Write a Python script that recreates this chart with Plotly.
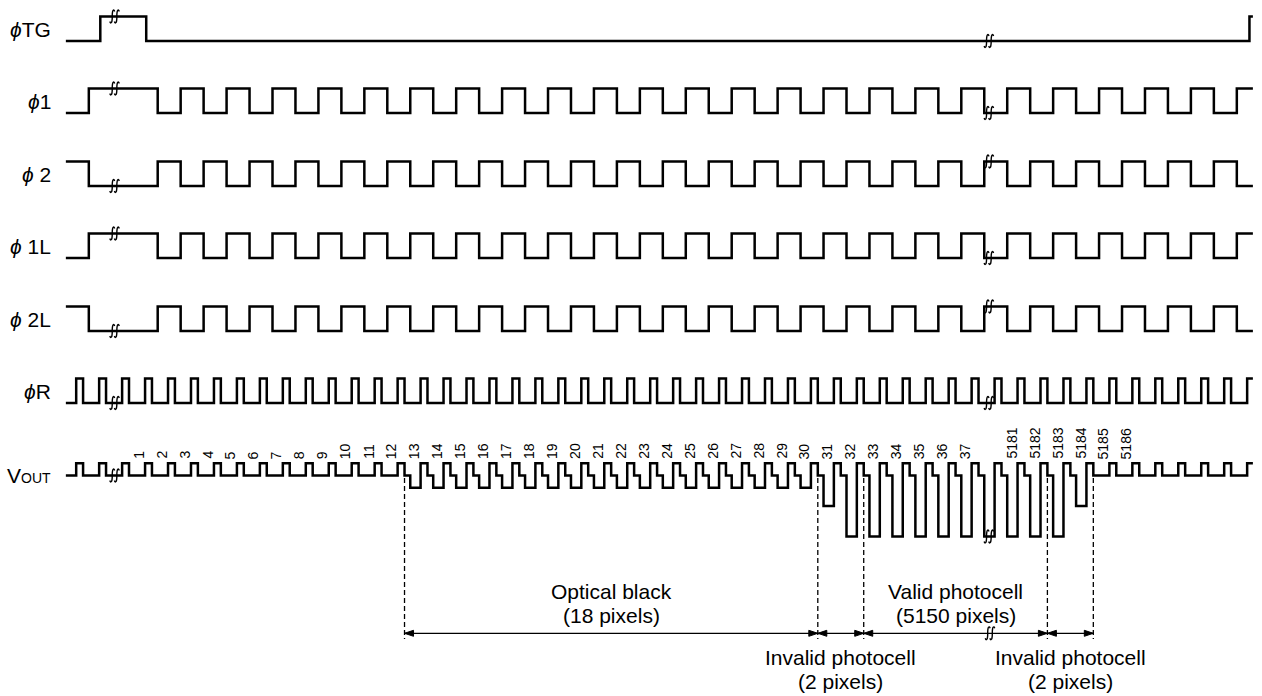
import plotly.graph_objects as go

# ------------------------------------------------------------------
# DATA  (time unit = half period of phi1; signal levels are logical)
# ------------------------------------------------------------------
T_START, T_END = -4.0, 47.7

signal_names = ["<i>ϕ</i>TG", "<i>ϕ</i>1", "<i>ϕ</i> 2", "<i>ϕ</i> 1L", "<i>ϕ</i> 2L", "<i>ϕ</i>R",
                "V<span style='font-size:14px'>OUT</span>"]

# phi TG : toggle times, initial level
tg_toggles = [-2.5, -0.5, 47.55]
tg_initial = 0

# phi1 / phi1L start low, phi2 / phi2L start high; all toggle at these times
clock_toggles = [-3, 0, 1, 2, 3, 4, 5, 6, 7, 8, 9, 10, 11, 12, 13, 14, 15, 16, 17, 18,
                 19, 20, 21, 22, 23, 24, 25, 26, 27, 28, 29, 30, 31, 32, 33, 34, 35, 36,
                 37, 38, 39, 40, 41, 42, 43, 44, 45, 46, 47]
phi1_initial = 0
phi2_initial = 1

# phi R : reset pulse rising edges, and pulse width
reset_rise = [-3.55, -2.55, -1.55, -0.55, 0.45, 1.45, 2.45, 3.45, 4.45, 5.45, 6.45, 7.45,
              8.45, 9.45, 10.45, 11.45, 12.45, 13.45, 14.45, 15.45, 16.45, 17.45, 18.45,
              19.45, 20.45, 21.45, 22.45, 23.45, 24.45, 25.45, 26.45, 27.45, 28.45, 29.45,
              30.45, 31.45, 32.45, 33.45, 34.45, 35.45, 36.45, 37.45, 38.45, 39.45, 40.45,
              41.45, 42.45, 43.45, 44.45, 45.45, 46.45, 47.45]
reset_width = 0.30

# VOUT : start of each output slot and the signal level in that slot
# (0 = feed-through level, -1 = optical black, -2.5 = invalid, -5 = valid)
slot_start = [-4, -3, -2, -1, 0, 1, 2, 3, 4, 5, 6, 7, 8, 9, 10, 11, 12, 13, 14, 15, 16,
              17, 18, 19, 20, 21, 22, 23, 24, 25, 26, 27, 28, 29, 30, 31, 32, 33, 34, 35,
              36, 37, 38, 39, 40, 41, 42, 43, 44, 45, 46, 47]
vout_signal = [0, 0, 0,                                  # before pixel 1
               0, 0, 0, 0, 0, 0, 0, 0, 0, 0, 0, 0,       # pixels 1-12
               -1, -1, -1, -1, -1, -1, -1, -1, -1,       # pixels 13-21
               -1, -1, -1, -1, -1, -1, -1, -1, -1,       # pixels 22-30
               -2.5,                                     # pixel 31
               -5, -5, -5, -5, -5, -5, -5,               # pixels 32-37 + break
               -5, -5, -5,                               # pixels 5181-5183
               -2.5,                                     # pixel 5184
               0, 0, 0, 0, 0, 0, 0]                      # pixels 5185 ...
VOUT_RESET_LEVEL = 1

pixel_labels = ["1", "2", "3", "4", "5", "6", "7", "8", "9", "10", "11", "12", "13", "14",
                "15", "16", "17", "18", "19", "20", "21", "22", "23", "24", "25", "26",
                "27", "28", "29", "30", "31", "32", "33", "34", "35", "36", "37",
                "5181", "5182", "5183", "5184", "5185", "5186"]
pixel_label_slot = [-1, 0, 1, 2, 3, 4, 5, 6, 7, 8, 9, 10, 11, 12, 13, 14, 15, 16, 17, 18,
                    19, 20, 21, 22, 23, 24, 25, 26, 27, 28, 29, 30, 31, 32, 33, 34, 35,
                    37, 38, 39, 40, 41, 42]

# region boundaries (dashed lines) and region captions
boundaries = [10.75, 28.75, 30.75, 38.75, 40.75]
regions_above = [("Optical black", "(18 pixels)", 0, 1),
                 ("Valid photocell", "(5150 pixels)", 2, 3)]
regions_below = [("Invalid photocell", "(2 pixels)", 1, 2),
                 ("Invalid photocell", "(2 pixels)", 3, 4)]

break_left = -1.88
break_right = 36.2

# ------------------------------------------------------------------
# LAYOUT CONSTANTS (pixels)
# ------------------------------------------------------------------
W, H = 1262, 696
X0_PX, PX_PER_T = 157.7, 22.96
row_low = [41, 113, 186, 258, 331, 403]
CLK_AMP = 24.5
VOUT_BASE = 475.5
VOUT_UNIT = 12.2
LABEL_RIGHT = 53
ARROW_Y = 633.3
DASH_TOP, DASH_BOTTOM = 478, 639
FONT = "Liberation Sans, Arial, Helvetica, sans-serif"
LW = 2.5


def px2t(px):
    return (px - X0_PX) / PX_PER_T


fig = go.Figure()


def add_line(xs, ys, width=LW, dash=None, color="black"):
    fig.add_trace(go.Scatter(x=xs, y=ys, mode="lines", hoverinfo="skip",
                             line=dict(color=color, width=width, dash=dash)))


def step_wave(initial, toggles):
    xs, ys, lvl = [T_START], [initial], initial
    for t in toggles:
        xs += [t, t]
        ys += [lvl, 1 - lvl]
        lvl = 1 - lvl
    xs.append(T_END)
    ys.append(lvl)
    return xs, ys


def pulse_wave(rises, width):
    xs, ys = [T_START], [0]
    for r in rises:
        f = min(r + width, T_END)
        xs += [r, r, f]
        ys += [0, 1, 1]
        if f < T_END:
            xs.append(f)
            ys.append(0)
    if xs[-1] < T_END:
        xs.append(T_END)
        ys.append(ys[-1])
    return xs, ys


waves = [step_wave(tg_initial, tg_toggles),
         step_wave(phi1_initial, clock_toggles),
         step_wave(phi2_initial, clock_toggles),
         step_wave(phi1_initial, clock_toggles),
         step_wave(phi2_initial, clock_toggles),
         pulse_wave(reset_rise, reset_width)]

for (xs, ys), base in zip(waves, row_low):
    add_line(xs, [base - v * CLK_AMP for v in ys])

# VOUT
vx, vy = [], []
for s, lvl, r in zip(slot_start, vout_signal, reset_rise):
    f = min(r + reset_width, T_END)
    vx += [s, r, r, f]
    vy += [lvl, lvl, VOUT_RESET_LEVEL, VOUT_RESET_LEVEL]
    if f < T_END:
        vx += [f, s + 1]
        vy += [0, 0]
add_line(vx, [VOUT_BASE - v * VOUT_UNIT for v in vy])


# break marks
def value_at(xs, ys, t):
    val = ys[0]
    for x, y in zip(xs, ys):
        if x <= t:
            val = y
    return val


def break_mark(t, y):
    shape = [(2.4, -5.0), (1.7, -6.4), (0.7, -5.9), (0.1, -3.0), (-0.1, 3.0),
             (-0.7, 5.9), (-1.7, 6.4), (-2.4, 5.0)]
    for off in (-2.3, 2.3):
        xs, ys = [], []
        for dx, dy in shape:
            xs.append(t + (off + dx) / PX_PER_T)
            ys.append(y + dy)
        fig.add_trace(go.Scatter(x=xs, y=ys, mode="lines", hoverinfo="skip",
                                 line=dict(color="black", width=1.4, shape="spline")))


for (xs, ys), base in zip(waves, row_low):
    for bt in (break_left, break_right):
        break_mark(bt, base - value_at(xs, ys, bt) * CLK_AMP)
for bt in (break_left, break_right):
    break_mark(bt, VOUT_BASE - value_at(vx, vy, bt) * VOUT_UNIT)
break_mark(break_right + 0.05, ARROW_Y)

# dashed boundary lines
for b in boundaries:
    add_line([b, b], [DASH_TOP, DASH_BOTTOM], width=1.3, dash="5px,3px")

# dimension line with arrowheads
add_line([boundaries[0], boundaries[-1]], [ARROW_Y, ARROW_Y], width=1.3)
ah_len, ah_half = 9 / PX_PER_T, 3.0
tx, ty = [], []
for i, b in enumerate(boundaries):
    if i > 0:   # arrow pointing right, tip at b
        tx += [b, b - ah_len, b - ah_len, b, None]
        ty += [ARROW_Y, ARROW_Y - ah_half, ARROW_Y + ah_half, ARROW_Y, None]
    if i < len(boundaries) - 1:  # arrow pointing left, tip at b
        tx += [b, b + ah_len, b + ah_len, b, None]
        ty += [ARROW_Y, ARROW_Y - ah_half, ARROW_Y + ah_half, ARROW_Y, None]
fig.add_trace(go.Scatter(x=tx, y=ty, mode="lines", fill="toself", fillcolor="black",
                         hoverinfo="skip", line=dict(color="black", width=1)))

annotations = []
# row labels
row_centers = [29, 101, 174, 246, 319, 391, 475]
for name, yc in zip(signal_names, row_centers):
    annotations.append(dict(x=px2t(LABEL_RIGHT), y=yc, text=name, showarrow=False,
                            xanchor="right", yanchor="middle",
                            font=dict(family=FONT, size=21, color="black")))
# pixel numbers
for lab, s in zip(pixel_labels, pixel_label_slot):
    annotations.append(dict(x=s + 0.17, y=461, text=lab, showarrow=False, textangle=-90,
                            xanchor="center", yanchor="bottom",
                            font=dict(family=FONT, size=14, color="black")))
# region captions
for l1, l2, a, b in regions_above:
    xc = (boundaries[a] + boundaries[b]) / 2
    annotations.append(dict(x=xc, y=591, text=l1, showarrow=False, yanchor="middle",
                            font=dict(family=FONT, size=21, color="black")))
    annotations.append(dict(x=xc, y=615, text=l2, showarrow=False, yanchor="middle",
                            font=dict(family=FONT, size=21, color="black")))
for l1, l2, a, b in regions_below:
    xc = (boundaries[a] + boundaries[b]) / 2
    annotations.append(dict(x=xc, y=657, text=l1, showarrow=False, yanchor="middle",
                            font=dict(family=FONT, size=21, color="black")))
    annotations.append(dict(x=xc, y=681, text=l2, showarrow=False, yanchor="middle",
                            font=dict(family=FONT, size=21, color="black")))

fig.update_layout(
    width=W, height=H, margin=dict(l=0, r=0, t=0, b=0),
    paper_bgcolor="white", plot_bgcolor="white", showlegend=False,
    xaxis=dict(range=[px2t(0), px2t(W)], visible=False, fixedrange=True),
    yaxis=dict(range=[H, 0], visible=False, fixedrange=True),
    annotations=annotations,
)

fig.write_html("out.html", config={"displayModeBar": False},
               post_script="document.body.style.margin='0';document.body.style.overflow='hidden';")
